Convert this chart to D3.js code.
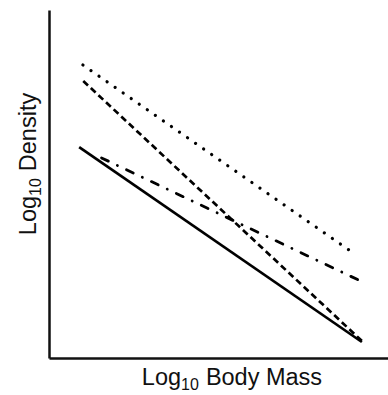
<!DOCTYPE html>
<html>
<head>
<meta charset="utf-8">
<script src="https://cdn.jsdelivr.net/npm/d3@7"></script>
<style>
  html, body { margin: 0; padding: 0; background: #fff; }
  svg { display: block; font-family: "Liberation Sans", Arial, sans-serif; }
</style>
</head>
<body>
<svg id="chart" width="388" height="395"></svg>
<script>
/* Schematic log-log size/density lines: no ticks, arbitrary units 0..100 */

const lineNames = ["dotted", "dashed", "solid", "dashdot"];
const lineStart = [[10, 84.2], [10.1, 79.6], [8.9, 60.6], [15.5, 57.5]];
const lineEnd = [[90.6, 29.6], [92.3, 4.9], [92.3, 4.6], [92.6, 21.8]];
const xLabel = ["Log", "10", "Body Mass"];
const yLabel = ["Log", "10", "Density"];

const dashes = {
  dotted: {dash: "0.1 9.7", cap: "round", width: 3.2},
  dashed: {dash: "6.5 3.9", cap: "butt", width: 2.7},
  solid: {dash: null, cap: "butt", width: 2.7},
  dashdot: {dash: "7.5 10 0.1 10", cap: "round", width: 2.8},
};

function main() {
  const width = 388;
  const height = 395;
  const margin = ({top: 10, right: 0, bottom: 37, left: 49});

  const svg = d3.select("#chart");

  const x = d3.scaleLinear()
    .domain([0, 100])
    .range([margin.left, width - margin.right]);
  const y = d3.scaleLinear()
    .domain([0, 100])
    .range([height - margin.bottom, margin.top]);

  const xAxis = (g) => g
    .attr("transform", `translate(0,${height - margin.bottom})`)
    .call(d3.axisBottom(x).ticks(0).tickSizeOuter(0))
    .call((g) => g.select(".domain")
      .attr("stroke", "#111").attr("stroke-width", 2.5));

  const yAxis = (g) => g
    .attr("transform", `translate(${margin.left},0)`)
    .call(d3.axisLeft(y).ticks(0).tickSizeOuter(0))
    .call((g) => g.select(".domain")
      .attr("stroke", "#111").attr("stroke-width", 2.5));

  svg.append("g").call(xAxis);
  svg.append("g").call(yAxis);

  const line = d3.line()
    .x((d) => x(d[0]))
    .y((d) => y(d[1]));

  for (let i in lineNames) {
    if (lineNames.hasOwnProperty(i)) {
      const style = dashes[lineNames[i]];
      svg.append("path")
        .datum([lineStart[i], lineEnd[i]])
        .attr("fill", "none")
        .attr("stroke", "#000")
        .attr("stroke-width", style.width)
        .attr("stroke-linecap", style.cap)
        .attr("stroke-dasharray", style.dash)
        .attr("d", line);
    }
  }

  // axis titles with subscript 10
  const label = (parts) => (t) => {
    t.append("tspan").text(parts[0]);
    t.append("tspan").attr("font-size", 16).attr("dy", 5).text(parts[1]);
    t.append("tspan").attr("dy", -5).attr("dx", 7).text(parts[2]);
  };

  svg.append("text")
    .attr("x", 232).attr("y", 385)
    .attr("text-anchor", "middle")
    .attr("font-size", 23.5)
    .attr("fill", "#111")
    .call(label(xLabel));

  svg.append("text")
    .attr("transform", "translate(36,164) rotate(-90)")
    .attr("text-anchor", "middle")
    .attr("font-size", 23.5)
    .attr("fill", "#111")
    .call(label(yLabel));

  return svg.node();
}

window.onload = main;
</script>
</body>
</html>
